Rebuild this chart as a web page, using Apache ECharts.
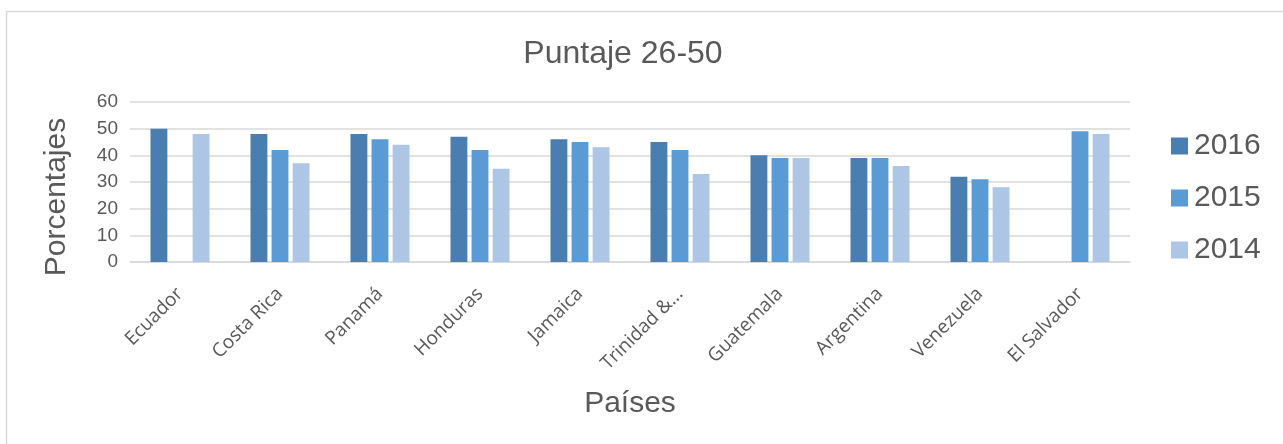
<!DOCTYPE html>
<html>
<head>
<meta charset="utf-8">
<script src="https://cdn.jsdelivr.net/npm/echarts@6/dist/echarts.min.js"></script>
<style>html,body{margin:0;padding:0;background:#fff;}#c{width:1283px;height:444px;}</style>
</head>
<body>
<div id="c"></div>
<script>
const categories = ['Ecuador','Costa Rica','Panamá','Honduras','Jamaica','Trinidad &...','Guatemala','Argentina','Venezuela','El Salvador'];
const s2016 = [50, 48, 48, 47, 46, 45, 40, 39, 32, null];
const s2015 = [null, 42, 46, 42, 45, 42, 39, 39, 31, 49];
const s2014 = [48, 37, 44, 35, 43, 33, 39, 36, 28, 48];
const yTicks = [0, 10, 20, 30, 40, 50, 60];

const chart = echarts.init(document.getElementById('c'), null, {renderer: 'canvas'});
const txt = '#595959';
const font = 'Liberation Sans, Arial, sans-serif';
chart.setOption({
  animation: false,
  graphic: [{
    type: 'rect', z: -1,
    shape: {x: 6.5, y: 11.5, width: 1400, height: 600},
    style: {fill: '#fff', stroke: '#d9d9d9', lineWidth: 1.5}
  }],
  title: {
    text: 'Puntaje 26-50', left: 618, top: 33, textAlign: 'center',
    textStyle: {fontFamily: font, fontSize: 32, fontWeight: 'normal', color: txt}
  },
  legend: {
    orient: 'vertical', left: 1166, top: 126, itemWidth: 17, itemHeight: 17, itemGap: 22,
    icon: 'rect',
    textStyle: {fontFamily: font, fontSize: 30, color: txt, padding: [0,0,0,1]}
  },
  grid: {left: 130, right: 153, top: 102, bottom: 182, containLabel: false},
  xAxis: {
    type: 'category', data: categories,
    name: 'Países', nameLocation: 'middle', nameGap: 127,
    nameTextStyle: {fontFamily: font, fontSize: 30, color: txt},
    axisLine: {lineStyle: {color: '#d9d9d9', width: 1.5}},
    axisTick: {show: false},
    axisLabel: {rotate: 45, interval: 0, margin: 29, fontFamily: 'Open Sans, sans-serif', fontSize: 19, color: txt}
  },
  yAxis: {
    type: 'value', min: 0, max: 60, interval: 10,
    name: 'Porcentajes', nameLocation: 'middle', nameGap: 58,
    nameTextStyle: {fontFamily: font, fontSize: 30, color: txt, padding: [0, 30, 0, 0]},
    axisLabel: {margin: 12, fontFamily: font, fontSize: 19, color: txt,
      formatter: v => yTicks.includes(v) ? String(v) : ''},
    splitLine: {lineStyle: {color: '#d9d9d9', width: 1.5}},
    axisLine: {show: false}, axisTick: {show: false}
  },
  series: [
    {name: '2016', type: 'bar', data: s2016, itemStyle: {color: '#4a7eb0'}, barGap: '25%', barCategoryGap: '41%'},
    {name: '2015', type: 'bar', data: s2015, itemStyle: {color: '#5b9bd5'}, barGap: '25%', barCategoryGap: '41%'},
    {name: '2014', type: 'bar', data: s2014, itemStyle: {color: '#aec6e6'}, barGap: '25%', barCategoryGap: '41%'}
  ]
});
</script>
</body>
</html>
